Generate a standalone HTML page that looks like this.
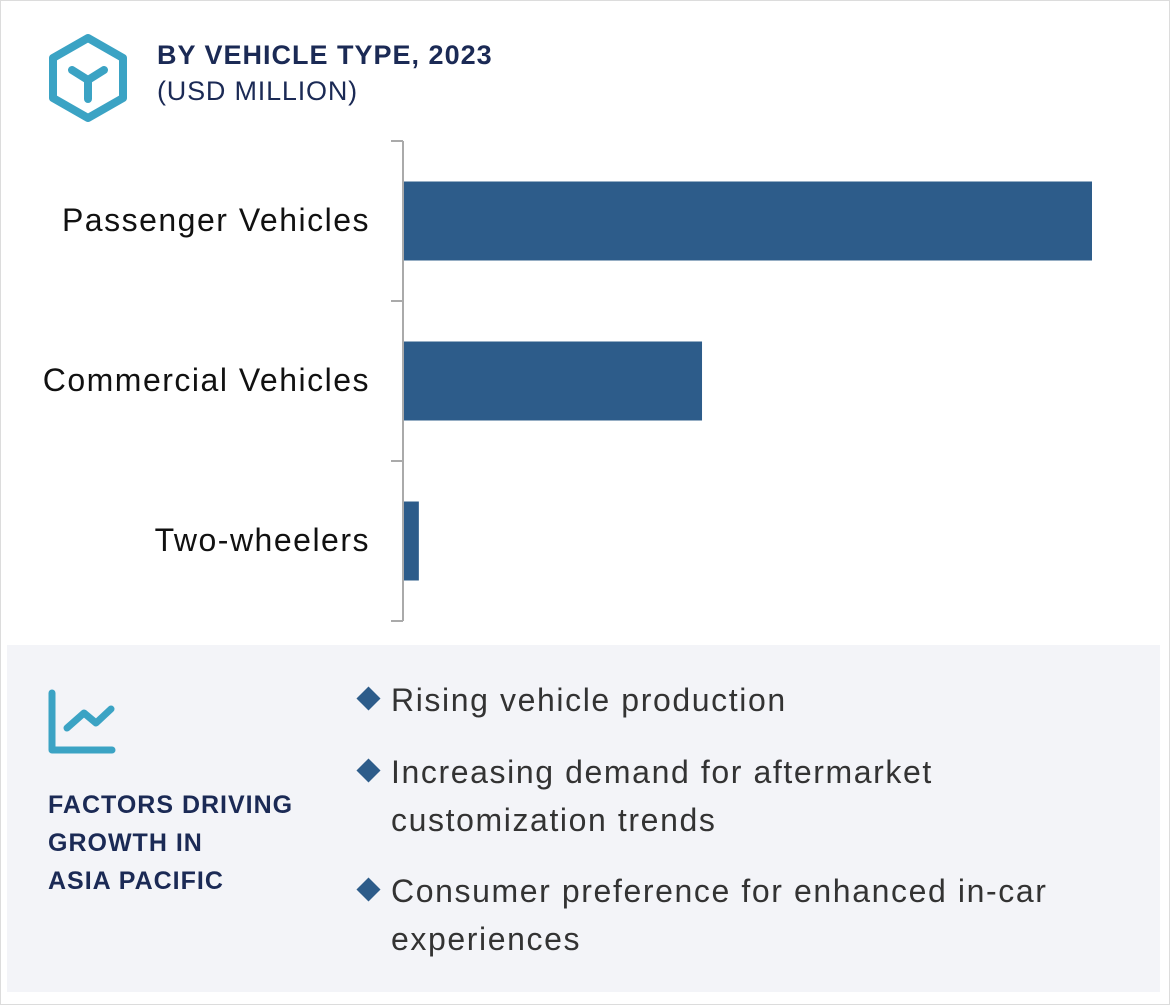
<!DOCTYPE html>
<html><head><meta charset="utf-8"><style>
body{margin:0;width:1170px;height:1005px;background:#fff;font-family:"Liberation Sans",sans-serif;position:relative;overflow:hidden}
.frame{position:absolute;left:0;top:0;width:1168px;height:1003px;border:1px solid #dcdcdc}
.t1{position:absolute;left:157px;top:40px;font-size:27px;font-weight:bold;color:#1b2a55;letter-spacing:1px}
.t2{position:absolute;left:157px;top:76px;font-size:27px;color:#1b2a55;letter-spacing:0.8px}
.panel{position:absolute;left:7px;top:645px;width:1153px;height:347px;background:#f3f4f8}
.ft{position:absolute;left:48px;top:786px;font-size:25px;font-weight:bold;color:#1b2a55;line-height:38px;letter-spacing:1px}
.item{position:absolute;left:358px;font-size:32px;color:#333;line-height:48px;letter-spacing:1.6px}
.item span.d{position:absolute;left:2px;top:14px;width:17px;height:17px;background:#2d5c8a;transform:rotate(45deg)}
.item div{padding-left:33px}
</style></head><body>
<div class="frame"></div>
<svg style="position:absolute;left:0;top:0" width="160" height="130">
<polygon points="88,38 123,58 123,98 88,118 53,98 53,58" fill="none" stroke="#3ba3c4" stroke-width="8" stroke-linejoin="round"/>
<path d="M72,70 L88,80 L104,70 M88,80 L88,99" fill="none" stroke="#3ba3c4" stroke-width="8" stroke-linecap="round"/>
</svg>
<div class="t1">BY VEHICLE TYPE, 2023</div>
<div class="t2">(USD MILLION)</div>
<svg id="chart" style="position:absolute;left:0;top:0" width="1170" height="640"></svg>
<div class="panel"></div>
<svg style="position:absolute;left:30px;top:680px" width="100" height="90">
<path d="M22,13 L22,70 L82,70" fill="none" stroke="#3ba3c4" stroke-width="7" stroke-linecap="round" stroke-linejoin="round"/>
<path d="M37,48 L54,33 L66,43 L81,29" fill="none" stroke="#3ba3c4" stroke-width="7" stroke-linecap="round" stroke-linejoin="round"/>
</svg>
<div class="ft">FACTORS DRIVING<br>GROWTH IN<br>ASIA PACIFIC</div>
<div class="item" style="top:676px"><span class="d"></span><div>Rising vehicle production</div></div>
<div class="item" style="top:748px"><span class="d"></span><div>Increasing demand for aftermarket<br>customization trends</div></div>
<div class="item" style="top:867px"><span class="d"></span><div>Consumer preference for enhanced in-car<br>experiences</div></div>
<script>
const categories=["Passenger Vehicles","Commercial Vehicles","Two-wheelers"];
const values=[100,43.4,2.3];
const svg=document.getElementById('chart');const NS="http://www.w3.org/2000/svg";
const x0=403,x1=1092,vmax=100,y0=141,band=160;
const xs=v=>x0+(v/vmax)*(x1-x0);
function mk(t,a){const e=document.createElementNS(NS,t);for(const k in a)e.setAttribute(k,a[k]);svg.appendChild(e);return e;}
const ax=mk('line',{x1:x0,y1:y0,x2:x0,y2:y0+band*categories.length,stroke:'#aaa','stroke-width':2});


for(let i=0;i<=categories.length;i++){const tk=mk('line',{x1:x0-12,y1:y0+band*i,x2:x0,y2:y0+band*i,stroke:'#aaa','stroke-width':2});

}
categories.forEach((c,i)=>{
const yc=y0+band*i+band/2;
const r=mk('rect',{x:x0+1,y:yc-39.5,width:xs(values[i])-x0-1,height:79,fill:'#2d5c8a'});


const t=mk('text',{x:370,y:yc+10,'text-anchor':'end','font-size':32,fill:'#111','font-family':'Liberation Sans, sans-serif','letter-spacing':'1.5'});
t.textContent=c;


});
</script>
</body></html>
